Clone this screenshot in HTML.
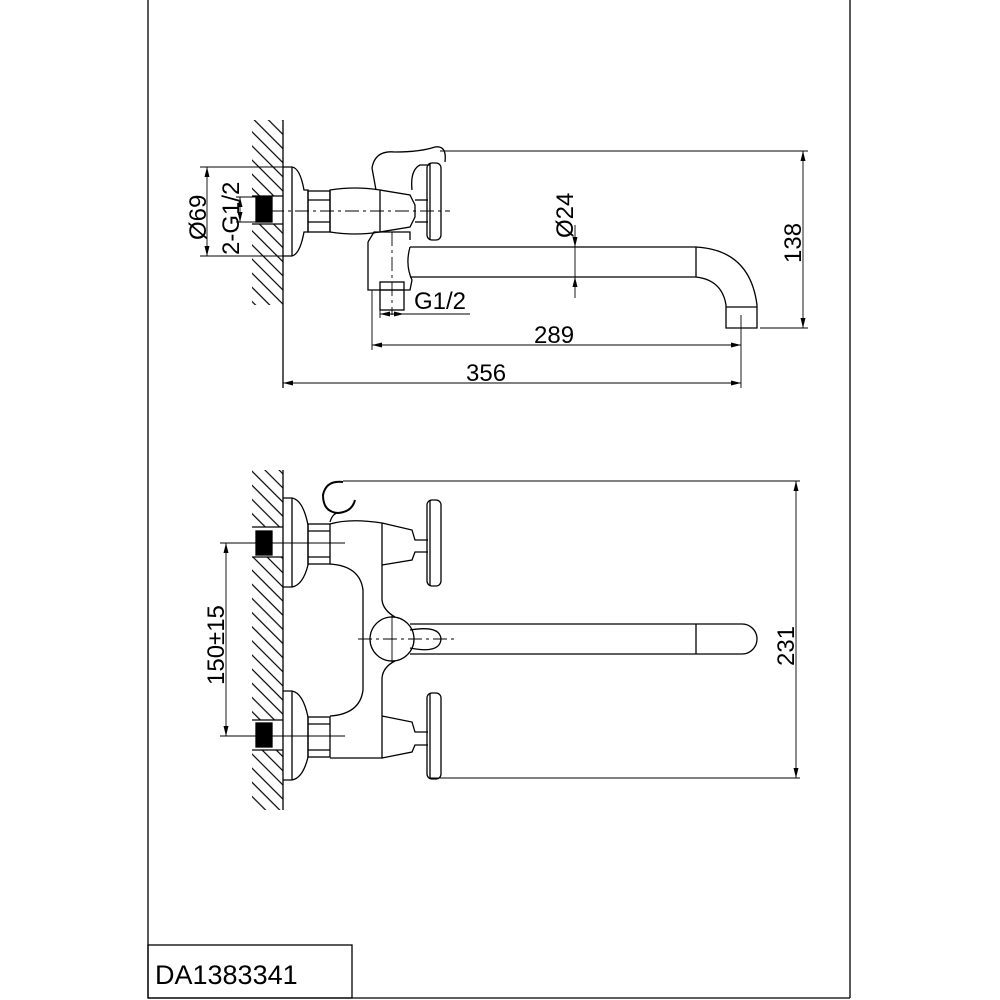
<!DOCTYPE html>
<html><head><style>html,body{margin:0;padding:0;background:#fff}svg{display:block}</style></head><body>
<svg width="1000" height="1000" viewBox="0 0 1000 1000" xmlns="http://www.w3.org/2000/svg" font-family="Liberation Sans, sans-serif">
<defs>
<pattern id="h" width="10" height="10" patternUnits="userSpaceOnUse" patternTransform="rotate(-45)">
<line x1="0" y1="0" x2="0" y2="10" stroke="#000" stroke-width="1.2" transform="translate(5,0)"/>
</pattern>
<marker id="a" viewBox="0 0 10 6" refX="10" refY="3" markerWidth="10" markerHeight="6" orient="auto-start-reverse" markerUnits="userSpaceOnUse"><path d="M0,0.5 L10,3 L0,5.5z" fill="#000"/></marker>
</defs>
<g fill="none" stroke="#000" stroke-width="1.3">
<line x1="148" y1="0" x2="148" y2="998"/>
<line x1="850" y1="0" x2="850" y2="998"/>
<line x1="148" y1="998" x2="850" y2="998"/>
<rect x="148" y="945" width="204" height="53"/>

<!-- TOP VIEW -->
<rect x="252" y="120" width="31" height="185" fill="url(#h)" stroke="none"/>
<rect x="252" y="196" width="31" height="28" fill="#fff" stroke="none"/>
<line x1="283" y1="120" x2="283" y2="388"/>
<rect x="256" y="197" width="16" height="25" fill="#000"/>
<line x1="252" y1="196" x2="283" y2="196"/><line x1="252" y1="224" x2="283" y2="224"/>
<path d="M283,167 L292,167 Q300,168 304,190 L308,190 L308,232 L304,232 Q300,254 292,256 L283,256"/>
<line x1="292" y1="167" x2="292" y2="256"/>
<rect x="308" y="191" width="22" height="41"/>
<line x1="308" y1="200" x2="330" y2="200"/><line x1="308" y1="222" x2="330" y2="222"/>
<path d="M330,190 Q355,186 380,190 L380,232 Q355,236 330,232z"/>
<path d="M380,190 L410,195 L415,205 L415,217 L410,227 L380,232"/>
<line x1="415" y1="200" x2="428" y2="200"/><line x1="415" y1="222" x2="428" y2="222"/>
<rect x="427" y="163" width="14" height="77" rx="5"/>
<line x1="430" y1="163" x2="430" y2="240"/>
<path d="M376,190 L372,168 Q375,150 395,152 Q420,152 435,147 Q447,145 445,162 M412,190 Q410,170 420,165 L430,165"/>
<path d="M368,242 L374,232 L410,232 L410,240 M368,242 L368,290 L410,290 L412,280 Q405,265 410,247"/>
<rect x="380" y="282" width="24" height="28"/>
<line x1="380" y1="290" x2="404" y2="290"/>
<path d="M410,247 L696,247 Q750,250 757,305 L757,328 L726,328 L726,305 Q722,280 696,277 L410,277"/>
<line x1="696" y1="247" x2="696" y2="277"/>
<line x1="726" y1="307" x2="757" y2="307"/>
<line x1="270" y1="211" x2="450" y2="211" stroke-width="0.9" stroke-dasharray="14,4,3,4"/>
<line x1="392" y1="232" x2="392" y2="315" stroke-width="0.9" stroke-dasharray="14,4,3,4"/>
<line x1="741" y1="315" x2="741" y2="388" stroke-width="0.9"/>
<line x1="200" y1="167" x2="290" y2="167" stroke-width="0.9"/>
<line x1="200" y1="256" x2="290" y2="256" stroke-width="0.9"/>
<line x1="207" y1="167" x2="207" y2="256" stroke-width="0.9" marker-start="url(#a)" marker-end="url(#a)"/>
<line x1="236" y1="197" x2="256" y2="197" stroke-width="0.9"/>
<line x1="236" y1="222" x2="256" y2="222" stroke-width="0.9"/>
<line x1="240" y1="197" x2="240" y2="222" stroke-width="0.9" marker-start="url(#a)" marker-end="url(#a)"/>
<line x1="440" y1="151" x2="808" y2="151" stroke-width="0.9"/>
<line x1="760" y1="328" x2="808" y2="328" stroke-width="0.9"/>
<line x1="803" y1="151" x2="803" y2="328" stroke-width="0.9" marker-start="url(#a)" marker-end="url(#a)"/>
<line x1="575" y1="225" x2="575" y2="247" stroke-width="0.9" marker-end="url(#a)"/>
<line x1="575" y1="298" x2="575" y2="277" stroke-width="0.9" marker-end="url(#a)"/>
<line x1="575" y1="247" x2="575" y2="277" stroke-width="0.9"/>
<line x1="372" y1="290" x2="372" y2="350" stroke-width="0.9"/>
<line x1="380" y1="310" x2="380" y2="318" stroke-width="0.9"/>
<line x1="380" y1="314" x2="404" y2="314" stroke-width="0.9" marker-start="url(#a)" marker-end="url(#a)"/>
<line x1="404" y1="314" x2="470" y2="314" stroke-width="0.9"/>
<line x1="372" y1="345" x2="741" y2="345" stroke-width="0.9" marker-start="url(#a)" marker-end="url(#a)"/>
<line x1="283" y1="383" x2="741" y2="383" stroke-width="0.9" marker-start="url(#a)" marker-end="url(#a)"/>

<!-- BOTTOM VIEW -->
<rect x="252" y="470" width="31" height="340" fill="url(#h)" stroke="none"/>
<rect x="252" y="527" width="31" height="30" fill="#fff" stroke="none"/>
<rect x="252" y="720" width="31" height="30" fill="#fff" stroke="none"/>
<line x1="283" y1="470" x2="283" y2="810"/>
<rect x="256" y="531" width="16" height="24" fill="#000"/>
<rect x="256" y="723" width="16" height="24" fill="#000"/>
<line x1="252" y1="527" x2="283" y2="527"/><line x1="252" y1="557" x2="283" y2="557"/>
<line x1="252" y1="720" x2="283" y2="720"/><line x1="252" y1="750" x2="283" y2="750"/>
<path d="M283,498 L292,498 Q303,500 308,525 L308,565 Q303,585 292,587 L283,587"/>
<line x1="292" y1="498" x2="292" y2="587"/>
<path d="M283,691 L292,691 Q303,693 308,717 L308,757 Q303,778 292,780 L283,780"/>
<line x1="292" y1="691" x2="292" y2="780"/>
<rect x="308" y="524" width="22" height="40"/>
<rect x="308" y="717" width="22" height="40"/>
<line x1="308" y1="531" x2="330" y2="531"/><line x1="308" y1="557" x2="330" y2="557"/>
<line x1="308" y1="724" x2="330" y2="724"/><line x1="308" y1="750" x2="330" y2="750"/>
<!-- hook -->
<path d="M343,482 Q326,480 323,495 Q323,512 338,513 Q352,512 355,500" stroke-width="2"/>
<path d="M330,522 Q333,512 340,513"/>
<!-- body -->
<path d="M330,524 Q350,518 382,523 L382,565 M330,564 Q360,566 363,590 L363,690 Q360,714 330,716 M330,758 L382,758 L382,716"/>
<path d="M382,565 L382,600 Q383,610 395,617 M382,716 L382,678 Q383,667 395,661"/>
<path d="M382,523 L412,530 L415,540 L428,540 M382,565 L412,560 L415,552 L428,552"/>
<path d="M382,716 L412,722 L415,732 L428,732 M382,758 L412,752 L415,745 L428,745"/>
<rect x="427" y="500" width="14" height="86" rx="5"/>
<rect x="427" y="693" width="14" height="86" rx="5"/>
<line x1="430" y1="500" x2="430" y2="586"/><line x1="430" y1="693" x2="430" y2="779"/>
<circle cx="392" cy="639" r="22"/>
<path d="M410,624 L696,624 L742,624 A15,15 0 0 1 742,654 L696,654 L410,654"/>
<line x1="696" y1="624" x2="696" y2="654"/>
<path d="M410,630 Q440,625 441,639 Q440,654 410,648"/>
<line x1="220" y1="543" x2="345" y2="543" stroke-width="0.9"/>
<line x1="220" y1="736" x2="345" y2="736" stroke-width="0.9"/>
<line x1="358" y1="639" x2="458" y2="639" stroke-width="0.9" stroke-dasharray="14,4,3,4"/>
<line x1="392" y1="615" x2="392" y2="663" stroke-width="0.9"/>
<line x1="226" y1="543" x2="226" y2="736" stroke-width="0.9" marker-start="url(#a)" marker-end="url(#a)"/>
<line x1="343" y1="481" x2="800" y2="481" stroke-width="0.9"/>
<line x1="430" y1="778" x2="800" y2="778" stroke-width="0.9"/>
<line x1="796" y1="481" x2="796" y2="778" stroke-width="0.9" marker-start="url(#a)" marker-end="url(#a)"/>
</g>
<g font-size="24" fill="#000">
<text transform="translate(206,240) rotate(-90)">Ø69</text>
<text transform="translate(239,255) rotate(-90)">2-G1/2</text>
<text transform="translate(573,238) rotate(-90)">Ø24</text>
<text transform="translate(801,263) rotate(-90)">138</text>
<text x="414" y="309">G1/2</text>
<text x="534" y="343">289</text>
<text x="466" y="381">356</text>
<text transform="translate(224,685) rotate(-90)">150±15</text>
<text transform="translate(794,666) rotate(-90)">231</text>
<text x="155" y="984" font-size="27">DA1383341</text>
</g>
</svg>
</body></html>
